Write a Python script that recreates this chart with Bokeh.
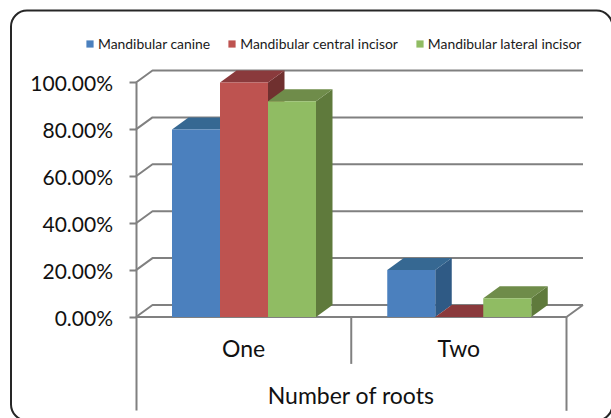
from bokeh.plotting import figure
from bokeh.models import BoxAnnotation, FixedTicker, PrintfTickFormatter, Legend, LegendItem
from bokeh.core.properties import value
from bokeh.embed import file_html
from bokeh.resources import INLINE

categories = ["One", "Two"]
series_names = ["Mandibular canine", "Mandibular central incisor", "Mandibular lateral incisor"]
canine = [80, 20]
central = [100, 0]
lateral = [92, 8]
y_ticks = [0, 20, 40, 60, 80, 100]
x_title = "Number of roots"

front_colors = ["#4B80BE", "#BE5350", "#90BC63"]
top_colors = ["#366892", "#8A3A3C", "#6F8C4A"]
side_colors = ["#2F5A85", "#70302F", "#5F7A3C"]
GRID = "#808080"
FONT = "Lato"

W, H = 611, 418
PX_X = 215.25
PX_Y = 2.345
X0 = 135.5
Y0 = 316.5
DX = 16.5 / PX_X
DY = 12 / PX_Y
BAR = 48 / PX_X
PAD = 36 / PX_X

p = figure(width=W, height=H, output_backend="svg", toolbar_location=None, tools="",
           x_axis_location=None, min_border_left=0, min_border_right=0,
           min_border_top=0, min_border_bottom=0,
           x_range=(-X0 / PX_X, (W - X0) / PX_X),
           y_range=((Y0 - H) / PX_Y, Y0 / PX_Y))
p.outline_line_color = None
p.grid.visible = False
p.background_fill_color = "#ffffff"
p.border_fill_color = "#ffffff"

p.add_layout(BoxAnnotation(left=10.5, right=612, top=H - 10, bottom=-2,
                           left_units="screen", right_units="screen",
                           top_units="screen", bottom_units="screen",
                           fill_color=None, line_color="#262626", line_alpha=1, line_width=2,
                           border_radius=16))

ax = p.yaxis[0]
ax.fixed_location = 0
ax.ticker = FixedTicker(ticks=y_ticks)
ax.formatter = PrintfTickFormatter(format="%.2f%%")
ax.bounds = (-40, 100)
ax.axis_line_color = GRID
ax.axis_line_width = 2
ax.major_tick_line_color = GRID
ax.major_tick_line_width = 2
ax.major_tick_out = 7
ax.major_tick_in = 0
ax.minor_tick_line_color = None
ax.major_label_standoff = 16
ax.major_label_text_font = FONT
ax.major_label_text_font_size = "21px"
ax.major_label_text_color = "#111111"

n = len(categories)
for t in y_ticks:
    p.line([0, DX, n + DX], [t, t + DY, t + DY], line_color=GRID, line_width=2)
p.line([0, n, n + DX], [0, 0, DY], line_color=GRID, line_width=2)
p.line([n, n], [0, -40], line_color=GRID, line_width=2)
p.line([1, 1], [0, -20], line_color=GRID, line_width=2)

items = []
for s, vals in enumerate([canine, central, lateral]):
    for c, v in enumerate(vals):
        x0 = c + PAD + s * BAR
        x1 = x0 + BAR
        p.patch([x1, x1 + DX, x1 + DX, x1], [0, DY, v + DY, v], fill_color=side_colors[s], line_color=None)
        p.patch([x0, x0 + DX, x1 + DX, x1], [v, v + DY, v + DY, v], fill_color=top_colors[s], line_color=None)
        r = p.quad(left=[x0], right=[x1], bottom=[0], top=[v], fill_color=front_colors[s], line_color=None)
        if c == 0:
            items.append(LegendItem(label=series_names[s], renderers=[r]))

p.text(x=[0.5 + i for i in range(n)], y=[-13.4] * n, text=categories,
       text_font=value(FONT), text_font_size="23px", text_color="#111111",
       text_align="center", text_baseline="middle")
p.text(x=[1.0], y=[-33.1], text=[x_title],
       text_font=value(FONT), text_font_size="23px", text_color="#111111",
       text_align="center", text_baseline="middle")

legend = Legend(items=items, orientation="horizontal", location=(85, H - 52),
                glyph_width=9, glyph_height=9, label_standoff=4, spacing=17,
                padding=0, margin=0, border_line_color=None, background_fill_color=None,
                background_fill_alpha=0, label_text_font=FONT, label_text_font_size="13.9px",
                label_text_color="#1a1a1a", click_policy="none")
p.add_layout(legend, "center")

open("out.html", "w").write(file_html(p, INLINE))
